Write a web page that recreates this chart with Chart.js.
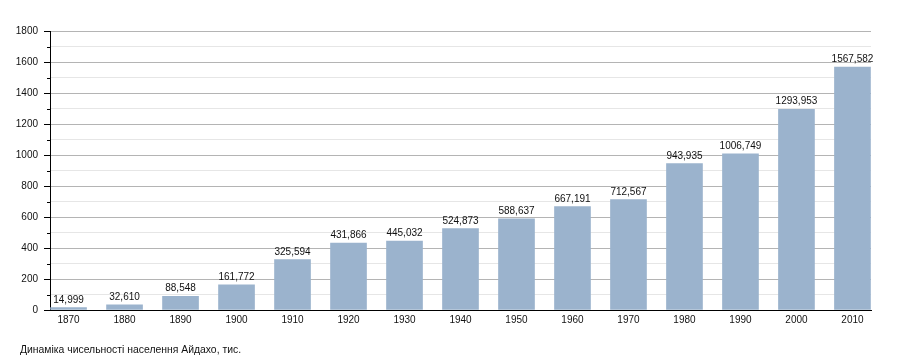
<!DOCTYPE html>
<html>
<head>
<meta charset="utf-8">
<script src="https://cdn.jsdelivr.net/npm/chart.js@4.4.1/dist/chart.umd.min.js"></script>
<style>
  html, body { margin: 0; padding: 0; background: #fff; }
  #wrap { position: relative; width: 900px; height: 360px; }
  #caption { position: absolute; left: 20px; top: 344px; font: 10.4px "Liberation Sans", Arial, sans-serif; color: #111; white-space: nowrap; }
</style>
</head>
<body>
<div id="wrap">
  <canvas id="c" width="900" height="360"></canvas>
  <div id="caption">Динаміка чисельності населення Айдахо, тис.</div>
</div>
<script>
const years = [1870, 1880, 1890, 1900, 1910, 1920, 1930, 1940, 1950, 1960, 1970, 1980, 1990, 2000, 2010];
const population = [14.999, 32.610, 88.548, 161.772, 325.594, 431.866, 445.032, 524.873, 588.637, 667.191, 712.567, 943.935, 1006.749, 1293.953, 1567.582];
const yTickValues = [0, 200, 400, 600, 800, 1000, 1200, 1400, 1600, 1800];

const FONT = '"Liberation Sans", Arial, sans-serif';

const barLabels = {
  id: 'barLabels',
  afterDatasetsDraw(chart) {
    const ctx = chart.ctx;
    const meta = chart.getDatasetMeta(0);
    ctx.save();
    ctx.font = '10px ' + FONT;
    ctx.fillStyle = '#111';
    ctx.textAlign = 'center';
    ctx.textBaseline = 'alphabetic';
    meta.data.forEach((bar, i) => {
      const txt = population[i].toFixed(3).replace('.', ',');
      ctx.fillText(txt, bar.x, bar.y - 5);
    });
    ctx.restore();
  }
};

const minorTicks = {
  id: 'minorTicks',
  afterDraw(chart) {
    const y = chart.scales.y;
    const ctx = chart.ctx;
    const left = chart.chartArea.left;
    ctx.save();
    ctx.strokeStyle = '#000';
    ctx.lineWidth = 1;
    for (let v = 100; v < 1800; v += 200) {
      const py = Math.round(y.getPixelForValue(v)) + 0.5;
      ctx.beginPath();
      ctx.moveTo(left - 3, py);
      ctx.lineTo(left, py);
      ctx.stroke();
    }
    ctx.restore();
  }
};

new Chart(document.getElementById('c'), {
  type: 'bar',
  data: {
    datasets: [{
      data: years.map((yr, i) => ({ x: yr, y: population[i] })),
      backgroundColor: '#9bb3cd',
      borderWidth: 0,
      barThickness: 36
    }]
  },
  options: {
    responsive: false,
    animation: false,
    devicePixelRatio: 1,
    layout: { padding: { left: 0, right: 29, top: 31, bottom: 0 } },
    plugins: { legend: { display: false }, tooltip: { enabled: false }, title: { display: false } },
    scales: {
      x: {
        type: 'linear',
        offset: false,
        min: 1866.69,
        max: 2013.31,
        afterBuildTicks(scale) { scale.ticks = years.map(v => ({ value: v })); },
        afterFit(scale) { scale.height = 50; },
        grid: { display: false, drawTicks: false, offset: false },
        border: { display: true, color: '#000', width: 1 },
        ticks: {
          autoSkip: false,
          maxRotation: 0,
          padding: 4,
          color: '#111',
          font: { family: FONT, size: 10 },
          callback: v => String(v)
        }
      },
      y: {
        min: 0,
        max: 1800,
        afterBuildTicks(scale) {
          const t = [];
          for (let v = 0; v <= 1800; v += 100) t.push({ value: v });
          scale.ticks = t;
        },
        afterFit(scale) { scale.width = 50; },
        grid: {
          color: c => (c.tick && c.tick.value % 200 === 0) ? '#b4b4b4' : '#e6e6e6',
          tickColor: c => (c.tick && c.tick.value % 200 === 0) ? '#000' : 'rgba(0,0,0,0)',
          tickLength: 6,
          drawTicks: true
        },
        border: { display: true, color: '#000', width: 1 },
        ticks: {
          padding: 6,
          color: '#111',
          font: { family: FONT, size: 10 },
          callback: v => yTickValues.includes(v) ? String(v) : ''
        }
      }
    }
  },
  plugins: [barLabels, minorTicks]
});
</script>
</body>
</html>
